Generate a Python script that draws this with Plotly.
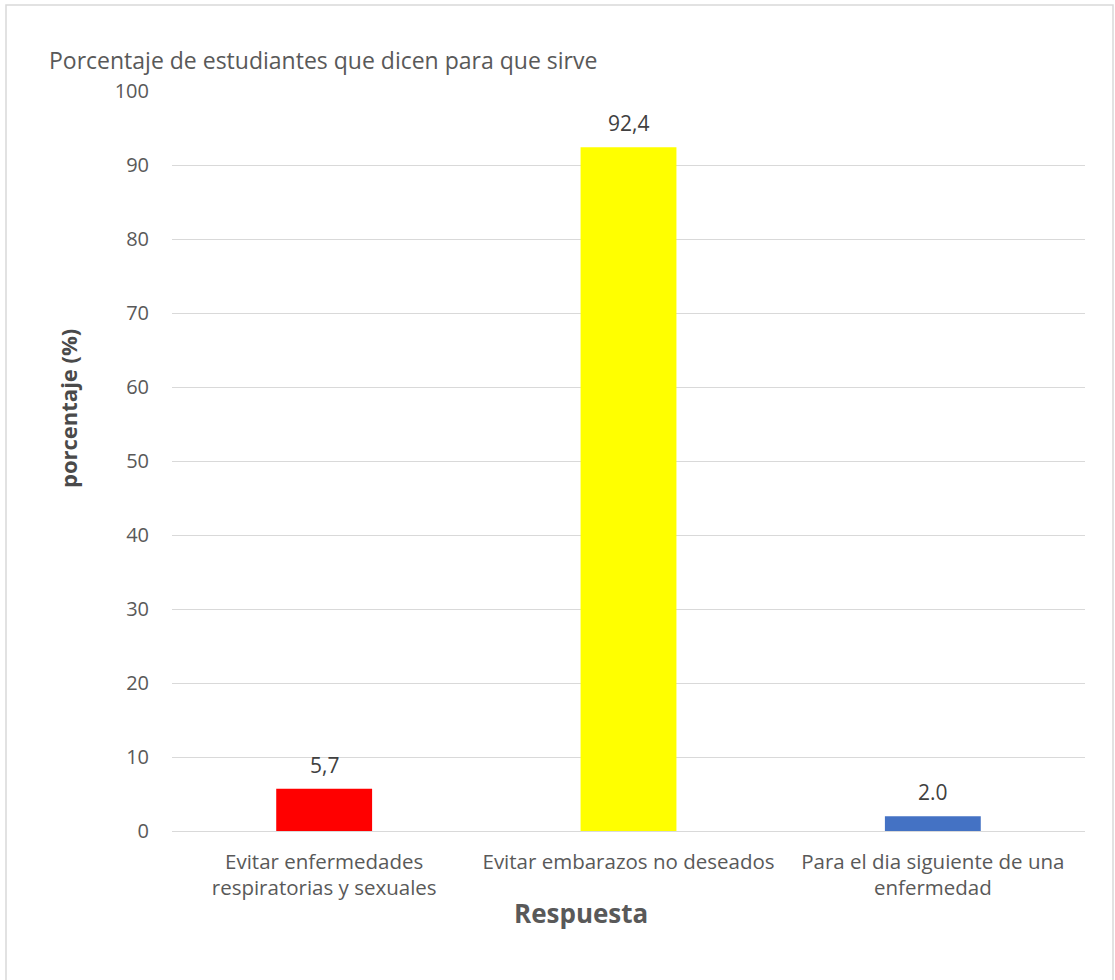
import plotly.graph_objects as go

categories = ["Evitar enfermedades<br>respiratorias y sexuales",
              "Evitar embarazos no deseados",
              "Para el dia siguiente de una<br>enfermedad"]
values = [5.7, 92.4, 2.0]
value_labels = ["5,7", "92,4", "2.0"]
bar_colors = ["#FF0000", "#FFFF00", "#4472C4"]
y_ticks = list(range(0, 101, 10))

title_text = "Porcentaje de estudiantes que dicen para que sirve"
y_title = "porcentaje (%)"
x_title = "Respuesta"

FONT = "Open Sans"
W, H = 1115, 980
L, R, T, B = 172, 30, 91, 149
pw, ph = W - L - R, H - T - B

def px_x(x):
    return (x - L) / pw

def px_y(y):
    return (H - B - y) / ph

fig = go.Figure()
fig.add_trace(go.Bar(
    x=categories, y=values, marker=dict(color=bar_colors, line=dict(width=0)),
    width=0.315, hoverinfo="skip", showlegend=False,
))

for c, v, t in zip(categories, values, value_labels):
    fig.add_annotation(x=c, y=v, text=t, showarrow=False, yanchor="bottom",
                       yshift=8, font=dict(family=FONT, size=21, color="#404040"))

fig.add_annotation(x=px_x(47), y=px_y(60), xref="paper", yref="paper",
                   text=title_text, showarrow=False, xanchor="left", yanchor="middle",
                   font=dict(family=FONT, size=23, color="#595959"))
fig.add_annotation(x=px_x(68), y=px_y(409), xref="paper", yref="paper",
                   text="<b>" + y_title + "</b>", showarrow=False, textangle=-90,
                   xanchor="center", yanchor="middle",
                   font=dict(family=FONT, size=22, color="#4a4a4a"))
fig.add_annotation(x=px_x(581), y=px_y(913), xref="paper", yref="paper",
                   text="<b>" + x_title + "</b>", showarrow=False,
                   xanchor="center", yanchor="middle",
                   font=dict(family=FONT, size=26, color="#595959"))

fig.add_shape(type="rect", xref="paper", yref="paper",
              x0=px_x(6), x1=px_x(1113), y0=px_y(990), y1=px_y(5),
              line=dict(color="#D9D9D9", width=1.5), fillcolor="rgba(0,0,0,0)", layer="below")

fig.update_layout(
    width=W, height=H, margin=dict(l=L, r=R, t=T, b=B),
    plot_bgcolor="white", paper_bgcolor="white",
    font=dict(family=FONT, color="#595959"),
    xaxis=dict(showline=False, showgrid=False, ticks="", tickfont=dict(size=20.5, color="#595959"),
               ticklabelstandoff=16),
    yaxis=dict(range=[0, 100], tickvals=y_ticks, showgrid=True, gridcolor="#D9D9D9", gridwidth=1,
               zeroline=True, zerolinecolor="#D9D9D9", zerolinewidth=1, showline=False, ticks="",
               tickfont=dict(size=20, color="#595959"), ticklabelstandoff=22),
)

fig.write_html("out.html", config={"displayModeBar": False},
               post_script="document.body.style.margin='0';document.body.style.overflow='hidden';")
